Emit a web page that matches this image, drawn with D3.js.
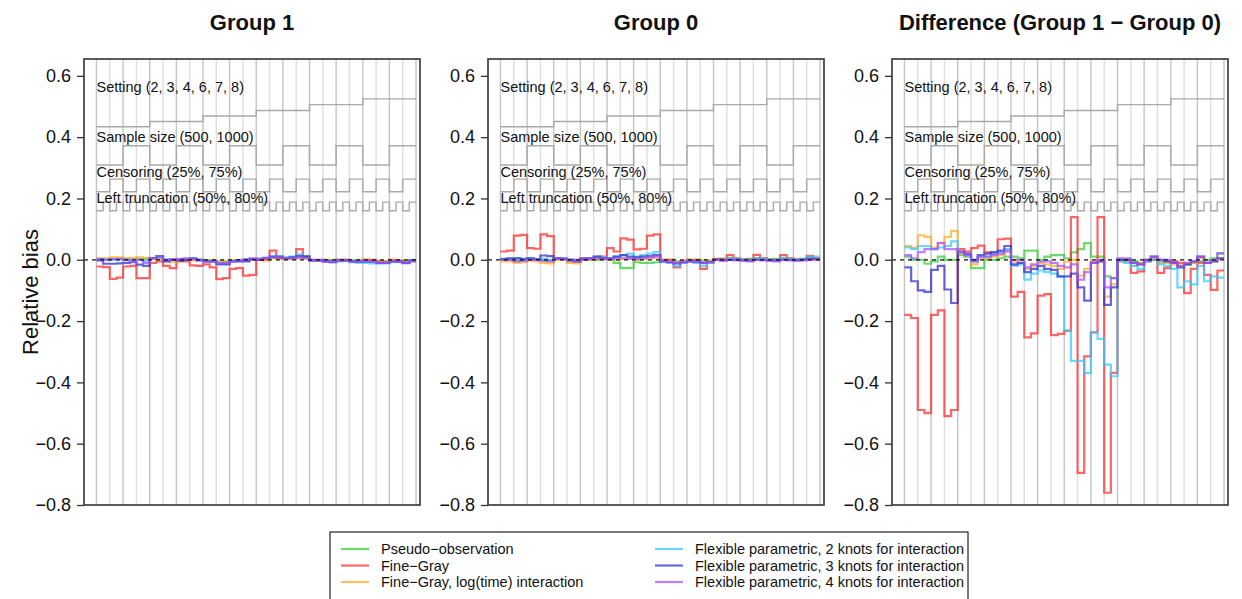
<!DOCTYPE html>
<html>
<head>
<meta charset="utf-8">
<script src="https://cdn.jsdelivr.net/npm/d3@7"></script>
<style>
	body { margin: 0; background: #fff; font-family: 'Liberation Sans', Arial, sans-serif; }
	svg text { fill: #111; }
</style>
</head>
<body>
<script>
// methods & colours
const METHODS = ['Pseudo\u2212observation', 'Fine\u2212Gray', 'Fine\u2212Gray, log(time) interaction',
	'Flexible parametric, 2 knots for interaction', 'Flexible parametric, 3 knots for interaction',
	'Flexible parametric, 4 knots for interaction'];
const PALETTE = ['#33cc33', '#ff2a2a', '#ffaa22', '#33c6ff', '#2b2bcc', '#a64dff'];

const PANEL_TITLES = ['Group 1', 'Group 0', 'Difference (Group 1 \u2212 Group 0)'];
const Y_TICKS = [0.6, 0.4, 0.2, 0.0, -0.2, -0.4, -0.6, -0.8];

// nested design: setting x sample size x censoring x left truncation = 48 scenarios
const SETTINGS = [2, 3, 4, 6, 7, 8];
const SETTING_LEVELS = [0.434, 0.451, 0.469, 0.487, 0.506, 0.525];
const SAMPLE_LEVELS = [0.309, 0.372];
const CENSOR_LEVELS = [0.222, 0.263];
const TRUNC_LEVELS = [0.160, 0.188];

// Group 1
const g1Pseudo = [0.003,0.002,0.003,0.002,0.002,0.002,0.003,0.002, 0.005,0.005,0,0,0.002,0.002,0.002,0, -0.002,-0.002,-0.006,-0.005,-0.002,-0.002,0,0.002, 0.002,0.003,0.006,0.006,0.005,0.005,0.008,0.005, 0,-0.001,0,-0.002,0,0,-0.002,-0.002, 0,-0.002,-0.004,-0.004,-0.002,-0.002,-0.004,0];
const g1FineGray = [-0.022,-0.024,-0.062,-0.058,-0.022,-0.02,-0.06,-0.06, -0.01,-0.005,-0.02,-0.027,-0.005,-0.005,-0.018,-0.02, -0.015,-0.025,-0.063,-0.06,-0.03,-0.027,-0.052,-0.049, 0.003,0,0.03,0.01,0.005,0.005,0.035,0.012, 0,0,-0.003,-0.005,0,0,-0.005,-0.005, 0,0,-0.005,-0.008,0,-0.005,-0.01,-0.005];
const g1FineGrayLog = [0.005,0.005,0.008,0.008,0.005,0.006,0.008,0.006, 0.003,0.003,-0.005,-0.008,0,0,-0.002,-0.002, -0.003,-0.003,-0.008,-0.006,-0.003,-0.003,-0.002,0, 0,-0.003,0.005,0.002,0.002,0.003,0.006,0.004, -0.002,-0.002,-0.004,-0.004,-0.002,-0.002,-0.004,-0.004, -0.003,-0.004,-0.006,-0.006,-0.003,-0.003,-0.006,-0.002];
const g1Fpm2 = [0.002,0,0,0.002,0,0,0,-0.005, 0.005,0.008,0,0,0,0,0.003,-0.002, -0.005,-0.006,-0.013,-0.012,-0.005,-0.003,0,0.003, 0.003,0.006,0.01,0.012,0.008,0.01,0.018,0.012, -0.003,-0.003,-0.006,-0.008,-0.005,-0.004,-0.008,-0.01, -0.01,-0.012,-0.013,-0.012,-0.007,-0.008,-0.012,-0.005];
const g1Fpm3 = [-0.002,-0.013,-0.013,-0.012,-0.01,-0.008,-0.016,-0.02, 0.005,0.012,-0.005,0,-0.002,0,0.005,0, -0.005,-0.005,-0.015,-0.015,-0.005,-0.005,-0.005,0.002, 0,0.005,0.01,0.008,0.005,0.008,0.012,0.01, -0.002,-0.002,-0.005,-0.008,-0.002,-0.002,-0.005,-0.005, -0.005,-0.005,-0.01,-0.01,-0.005,-0.005,-0.01,-0.003];
const g1Fpm4 = [0.002,0,0.002,0.003,0,-0.005,0,-0.01, 0.005,0.01,0,0.002,0.003,0.005,0.002,-0.002, -0.005,-0.005,-0.012,-0.01,-0.005,-0.002,0.002,0.005, 0.003,0.006,0.008,0.01,0.005,0.005,0.008,0.005, -0.002,-0.003,-0.005,-0.006,-0.003,-0.002,-0.005,-0.005, -0.005,-0.006,-0.01,-0.01,-0.005,-0.006,-0.01,-0.002];

// Group 0
const g0Pseudo = [0.002,0,-0.003,-0.003,0,0,-0.003,-0.002, 0.003,0.003,-0.005,-0.005,0,0,0,0.002, 0,-0.01,-0.027,-0.027,-0.008,-0.01,-0.01,-0.008, 0,0,-0.005,-0.005,0,0,-0.003,-0.003, 0.002,0.003,0.005,0.003,0.002,0.003,0.005,0.003, 0.002,0.003,0.005,0.003,0.002,0.003,0.005,0.003];
const g0FineGray = [0.027,0.03,0.079,0.081,0.038,0.036,0.083,0.077, 0.005,0.003,0,0,0.005,0.003,0.005,0.01, 0.038,0.027,0.07,0.066,0.034,0.036,0.079,0.083, 0,0,-0.025,-0.005,0,0,-0.03,-0.005, 0.003,0.003,0.015,0.005,0,0.002,0.016,0.005, 0,0,0.015,0.005,0,0,0.013,0.005];
const g0FineGrayLog = [-0.005,-0.005,-0.01,-0.008,-0.003,-0.005,-0.01,-0.012, 0,0,-0.01,-0.012,0,0,0.003,0.005, 0,0,0.003,0.005,0,0.003,0.005,0.005, -0.003,-0.005,-0.01,-0.005,-0.003,-0.005,-0.01,-0.005, 0,0,0.003,0.002,0,0,0.003,0.002, 0,0,0.003,0.002,0,0,0.003,0.002];
const g0Fpm2 = [0.003,0.003,0.005,0,0.005,0,0.003,0, 0.005,0.005,0,-0.003,0.003,0.005,0.01,0.008, 0.005,0.01,0.015,0.02,0.01,0.015,0.02,0.025, -0.005,-0.01,-0.02,-0.01,-0.005,-0.01,-0.02,-0.01, 0,0,0.005,0.003,0,0,0.005,0.003, 0,0,0.005,0.003,0,0.003,0.01,0.01];
const g0Fpm3 = [0.002,0.005,0.005,0.003,0.005,0.002,0.014,0.012, 0.005,0.003,0,-0.005,0.003,0.005,0.01,0.005, 0.005,0.01,0.015,0.01,0.008,0.01,0.012,0.015, -0.005,-0.008,-0.012,-0.008,-0.005,-0.005,-0.01,-0.008, 0,-0.002,0,0,-0.002,-0.003,0,0, -0.002,-0.003,0,0,-0.002,0,0.003,0.002];
const g0Fpm4 = [0,0,-0.005,-0.003,0,0,-0.003,-0.005, 0.003,0.003,-0.003,-0.005,0,0.003,0.005,0.003, 0.003,0.005,0.005,0.003,0.003,0.005,0.008,0.01, -0.003,-0.006,-0.01,-0.008,-0.005,-0.008,-0.01,-0.008, 0,-0.003,0,-0.002,-0.003,-0.005,0,-0.002, -0.003,-0.005,0,-0.002,-0.003,-0.002,0,0];

// Difference (Group 1 - Group 0)
const dPseudo = [0.01,0,0,-0.013,-0.005,0.01,0,0, 0.015,0.01,-0.027,-0.027,0,0,0.005,0.01, 0.01,0.005,0.03,0.03,0,0.01,0.015,0.015, 0.005,0.024,0.035,0.054,0.01,0.01,-0.054,-0.06, 0,0,-0.005,-0.01,0,0,-0.005,-0.005, -0.01,-0.02,-0.015,-0.01,-0.005,0,0.005,0.02];
const dFineGray = [-0.18,-0.19,-0.49,-0.5,-0.18,-0.165,-0.51,-0.49, 0.035,0.027,0.038,0.046,0.024,0.02,0.067,0.069, -0.12,-0.105,-0.253,-0.24,-0.117,-0.112,-0.246,-0.242, -0.232,0.139,-0.695,-0.315,-0.237,0.139,-0.76,-0.369, 0,-0.005,-0.043,-0.038,-0.005,0,-0.043,-0.027, -0.005,-0.01,-0.109,-0.03,-0.01,-0.049,-0.098,-0.035];
const dFineGrayLog = [0.045,0.04,0.08,0.075,0.04,0.055,0.075,0.094, 0.02,0.015,-0.015,0.005,0.005,0.01,0.015,0.025, -0.005,-0.01,-0.03,-0.02,-0.01,-0.015,-0.02,-0.03, -0.005,0,-0.052,-0.03,-0.005,-0.005,-0.12,-0.08, -0.005,-0.005,-0.02,-0.01,0,0.005,-0.01,-0.01, -0.015,-0.02,-0.01,-0.01,0.005,-0.01,-0.005,0.005];
const dFpm2 = [0.04,0.035,0.045,0.045,0.035,0.04,0.045,0.06, 0.025,0.015,-0.005,0.01,0.01,0.02,0.025,0.035, -0.02,-0.015,-0.065,-0.045,-0.035,-0.04,-0.045,-0.055, -0.23,-0.33,-0.33,-0.37,-0.237,-0.258,-0.342,-0.38, -0.005,-0.01,-0.02,-0.03,-0.005,0,-0.015,-0.02, -0.03,-0.09,-0.07,-0.08,-0.02,-0.07,-0.054,-0.058];
const dFpm3 = [-0.025,-0.07,-0.1,-0.105,-0.033,-0.02,-0.097,-0.141, 0.027,0.02,0,0.015,0.02,0.025,0.03,0.045, -0.015,-0.01,-0.04,-0.03,-0.02,-0.03,-0.033,-0.054, -0.054,-0.045,-0.09,-0.133,-0.01,-0.005,-0.147,-0.09, 0,0,-0.01,-0.015,0,0.01,0,-0.005, -0.01,-0.025,-0.015,-0.005,0.01,-0.01,-0.005,0.005];
const dFpm4 = [0.015,0.005,0.025,0.035,0.035,0.054,0.035,0.035, 0.025,0.015,-0.005,0.01,0.01,0.015,0.02,0.03, 0,0,-0.025,-0.015,-0.005,-0.005,-0.01,-0.02, -0.025,-0.015,-0.065,-0.04,-0.01,0,-0.09,-0.06, 0.005,0.005,-0.01,-0.015,-0.003,0.01,0,0, -0.01,-0.02,-0.01,-0.005,0.01,-0.01,0,0.022];

const PANELS = [
	[g1Pseudo, g1FineGray, g1FineGrayLog, g1Fpm2, g1Fpm3, g1Fpm4],
	[g0Pseudo, g0FineGray, g0FineGrayLog, g0Fpm2, g0Fpm3, g0Fpm4],
	[dPseudo, dFineGray, dFineGrayLog, dFpm2, dFpm3, dFpm4]
];

const N = SETTINGS.length * 8;

// reference step lines (one value per scenario)
const REFS = [
	{ label: 'Setting (2, 3, 4, 6, 7, 8)', at: 0.564, levels: d3.range(N).map(i => SETTING_LEVELS[Math.floor(i / 8)]) },
	{ label: 'Sample size (500, 1000)', at: 0.401, levels: d3.range(N).map(i => SAMPLE_LEVELS[Math.floor(i / 4) % 2]) },
	{ label: 'Censoring (25%, 75%)', at: 0.287, levels: d3.range(N).map(i => CENSOR_LEVELS[Math.floor(i / 2) % 2]) },
	{ label: 'Left truncation (50%, 80%)', at: 0.202, levels: d3.range(N).map(i => TRUNC_LEVELS[i % 2]) }
];

const W = 1242, H = 599;
const PANEL_LEFT = [84, 488, 892];
const PANEL_W = 336;
const TOP = 59, BOTTOM = 505;

let svg = d3.select('body').append('svg')
	.attr('width', W)
	.attr('height', H);

let y = d3.scaleLinear()
	.domain([-0.8, 0.655])
	.range([BOTTOM, TOP]);

const fmt = v => (v < 0 ? '\u2212' : '') + Math.abs(v).toFixed(1);

// step path helper: value v[i] spans [i, i+1]
const stepLine = x => d3.line()
	.x(d => x(d[0]))
	.y(d => y(d[1]))
	.curve(d3.curveStepAfter);
const toSteps = vals => vals.map((v, i) => [i, v]).concat([[vals.length, vals[vals.length - 1]]]);

PANELS.forEach((series, p) => {
	let left = PANEL_LEFT[p];
	let x = d3.scaleLinear()
		.domain([-1.875, 48.6])
		.range([left, left + PANEL_W]);

	let g = svg.append('g');

	// vertical grid lines, every two scenarios
	g.selectAll('line.grid')
		.data(d3.range(0, N + 1, 2))
		.enter()
		.append('line')
		.attr('x1', d => x(d))
		.attr('x2', d => x(d))
		.attr('y1', TOP)
		.attr('y2', BOTTOM)
		.attr('stroke', d => d % 4 === 0 ? '#c4c4c4' : '#dedede')
		.attr('stroke-width', 1.4);

	// reference lines for the nested factors
	g.selectAll('path.ref')
		.data(REFS)
		.enter()
		.append('path')
		.attr('d', r => stepLine(x)(toSteps(r.levels)))
		.attr('fill', 'none')
		.attr('stroke', '#a9a9a9')
		.attr('stroke-width', 1.4);

	g.selectAll('text.ref')
		.data(REFS)
		.enter()
		.append('text')
		.attr('x', x(0))
		.attr('y', r => y(r.at))
		.attr('dy', '0.36em')
		.style('font-size', '14.5px')
		.text(r => r.label);

	// method curves
	g.selectAll('path.method')
		.data(series)
		.enter()
		.append('path')
		.attr('d', vals => stepLine(x)(toSteps(vals)))
		.attr('fill', 'none')
		.attr('stroke', (vals, i) => PALETTE[i])
		.attr('stroke-opacity', 0.72)
		.attr('stroke-width', 2.2);

	// zero reference
	g.append('line')
		.attr('x1', left)
		.attr('x2', left + PANEL_W)
		.attr('y1', y(0))
		.attr('y2', y(0))
		.attr('stroke', '#111')
		.attr('stroke-width', 1.3)
		.attr('stroke-dasharray', '4,4');

	// frame
	g.append('rect')
		.attr('x', left)
		.attr('y', TOP)
		.attr('width', PANEL_W)
		.attr('height', BOTTOM - TOP)
		.attr('fill', 'none')
		.attr('stroke', '#333')
		.attr('stroke-width', 1.6);

	let axis = g.append('g')
		.attr('transform', `translate(${left}, 0)`)
		.call(d3.axisLeft(y).tickValues(Y_TICKS).tickSize(7).tickPadding(6).tickFormat(fmt));
	axis.select('.domain').remove();
	axis.selectAll('line').attr('stroke', '#333').attr('stroke-width', 1.3);
	axis.selectAll('text')
		.style('font-size', '18px')
		.style('font-family', "'Liberation Sans', Arial, sans-serif")
		.attr('fill', '#111');

	svg.append('text')
		.attr('x', left + PANEL_W / 2)
		.attr('y', 30)
		.attr('text-anchor', 'middle')
		.style('font-size', '22px')
		.style('font-weight', 'bold')
		.text(PANEL_TITLES[p]);
});

svg.append('text')
	.attr('transform', 'translate(30, 292) rotate(-90)')
	.attr('text-anchor', 'middle')
	.attr('dy', '0.36em')
	.style('font-size', '22px')
	.text('Relative bias');

// legend
let legend = svg.append('g');
legend.append('rect')
	.attr('x', 330)
	.attr('y', 532)
	.attr('width', 638)
	.attr('height', 80)
	.attr('fill', '#fff')
	.attr('stroke', '#333')
	.attr('stroke-width', 1.3);

let items = legend.selectAll('g.item')
	.data(METHODS)
	.enter()
	.append('g')
	.attr('transform', (m, i) => `translate(${i < 3 ? 341 : 655}, ${549 + (i % 3) * 16.5})`);

items.append('line')
	.attr('x1', 0)
	.attr('x2', 28)
	.attr('stroke', (m, i) => PALETTE[i])
	.attr('stroke-opacity', 0.72)
	.attr('stroke-width', 2.2);

items.append('text')
	.attr('x', 40)
	.attr('dy', '0.36em')
	.style('font-size', '14.5px')
	.text(m => m);
</script>
</body>
</html>
